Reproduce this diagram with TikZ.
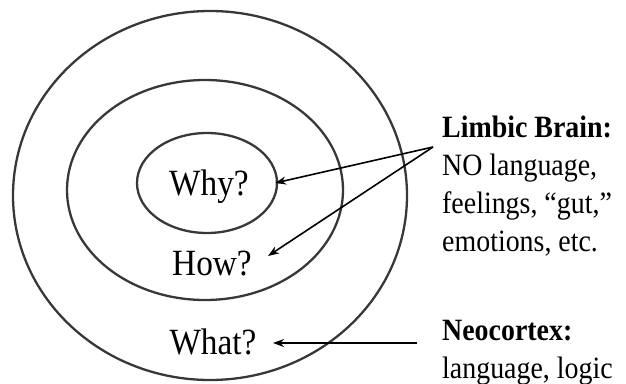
\documentclass[tikz,border=0pt]{standalone}
\usepackage{fontspec}
\setmainfont{Liberation Serif}
\usetikzlibrary{arrows.meta}
\newcommand\sqz[1]{\scalebox{0.9}[1]{#1}}
\begin{document}
\begin{tikzpicture}[x=1pt,y=-1pt,
  ring/.style={draw=black!78, line width=2.3pt},
  conn/.style={draw=black, line width=1.6pt, -{Stealth[length=11pt,width=8pt,inset=3.5pt]}},
  qlabel/.style={font=\fontsize{37}{40}\selectfont, inner sep=0pt, anchor=base},
  side/.style={font=\fontsize{31}{38}\selectfont, inner sep=0pt, anchor=base west}]
\useasboundingbox (0,0) rectangle (626,383);
% rings
\draw[ring] (210,195.5) ellipse [x radius=197, y radius=184.5];
\draw[ring] (205,190) ellipse [x radius=138, y radius=110];
\draw[ring] (207,183) ellipse [x radius=70, y radius=50];
% labels in rings
\node[qlabel] (why) at (209,195) {\sqz{Why?}};
\node[qlabel] (how) at (212,275) {\sqz{How?}};
\node[qlabel] (what) at (213,354) {\sqz{What?}};
% side texts
\node[side] (limbic) at (442,137) {\sqz{\begin{tabular}[t]{@{}l@{}}\textbf{Limbic Brain:}\\NO language,\\feelings, “gut,”\\emotions, etc.\end{tabular}}};
\node[side] (neo) at (442,340) {\sqz{\begin{tabular}[t]{@{}l@{}}\textbf{Neocortex:}\\language, logic\end{tabular}}};
% connector ends
\coordinate (ls) at (433,147);
\coordinate (whytip) at (275,183);
\coordinate (howtip) at (268,256);
\coordinate (ns) at (417,343);
\coordinate (whattip) at (273,343);
\draw[conn] (ls) -- (whytip);
\draw[conn] (ls) -- (howtip);
\draw[conn] (ns) -- (whattip);
\end{tikzpicture}
\end{document}
